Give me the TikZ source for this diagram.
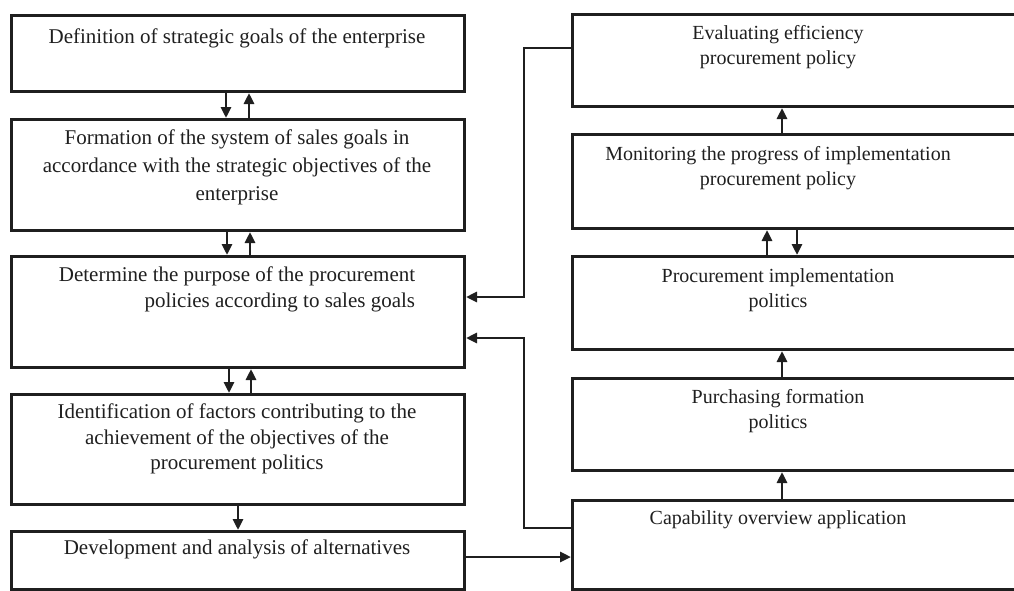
\documentclass[tikz,border=0pt]{standalone}
\usepackage{fontspec}
\setmainfont{Liberation Serif}
\usetikzlibrary{arrows.meta}
\begin{document}
\begin{tikzpicture}[x=1pt,y=-1pt,
  box/.style={draw=black!88, line width=3pt, rectangle, inner sep=0pt},
  txt/.style={anchor=north, inner sep=0pt, align=center, text=black!88, font=\fontsize{20}{25}\selectfont},
  ltxt/.style={txt, font=\fontsize{21}{25.5}\selectfont},
  con/.style={draw=black!88, line width=2.9pt, -{Triangle[length=11pt,width=10pt]}}]
\useasboundingbox (0,0) rectangle (1014,590);
\clip (0,0) rectangle (1014,590);
% left boxes
\node[box, minimum width=453pt, minimum height=76pt, anchor=north west] (L1) at (10,14) {};
\node[box, minimum width=453pt, minimum height=111pt, anchor=north west] (L2) at (10,118) {};
\node[box, minimum width=453pt, minimum height=111pt, anchor=north west] (L3) at (10,255) {};
\node[box, minimum width=453pt, minimum height=110pt, anchor=north west] (L4) at (10,393) {};
\node[box, minimum width=453pt, minimum height=58pt, anchor=north west] (L5) at (10,530) {};
% right boxes
\node[box, minimum width=470pt, minimum height=92pt, anchor=north west] (R1) at (571,13) {};
\node[box, minimum width=470pt, minimum height=94pt, anchor=north west] (R2) at (571,133) {};
\node[box, minimum width=470pt, minimum height=93pt, anchor=north west] (R3) at (571,255) {};
\node[box, minimum width=470pt, minimum height=92pt, anchor=north west] (R4) at (571,377) {};
\node[box, minimum width=470pt, minimum height=89pt, anchor=north west] (R5) at (571,499) {};
% texts
\node[ltxt] (t1) at (237,29) {Definition of strategic goals of the enterprise};
\node[ltxt, font=\fontsize{21}{28}\selectfont] (t2) at (237,130) {Formation of the system of sales goals in\\accordance with the strategic objectives of the\\enterprise};
\node[ltxt, align=right] (t3) at (237,267) {Determine the purpose of the procurement\\policies according to sales goals};
\node[ltxt] (t4) at (237,404) {Identification of factors contributing to the\\achievement of the objectives of the\\procurement politics};
\node[ltxt] (t5) at (237,540) {Development and analysis of alternatives};
\node[txt] (t6) at (778,25) {Evaluating efficiency\\procurement policy};
\node[txt] (t7) at (778,146) {Monitoring the progress of implementation\\procurement policy};
\node[txt] (t8) at (778,268) {Procurement implementation\\politics};
\node[txt] (t9) at (778,389) {Purchasing formation\\politics};
\node[txt] (t10) at (778,510) {Capability overview application};
% arrows left column
\draw[con] ([xshift=-12pt]L1.south) -- ([xshift=-12pt]L2.north);
\draw[con] ([xshift=11pt]L2.north) -- ([xshift=11pt]L1.south);
\draw[con] ([xshift=-11pt]L2.south) -- ([xshift=-11pt]L3.north);
\draw[con] ([xshift=12pt]L3.north) -- ([xshift=12pt]L2.south);
\draw[con] ([xshift=-9pt]L3.south) -- ([xshift=-9pt]L4.north);
\draw[con] ([xshift=13pt]L4.north) -- ([xshift=13pt]L3.south);
\draw[con] (L4.south) -- (L5.north);
% arrows right column
\coordinate (rx) at (782,0);
\draw[con] (R2.north -| rx) -- (R1.south -| rx);
\draw[con] (R3.north -| 767,0) -- (R2.south -| 767,0);
\draw[con] (R2.south -| 797,0) -- (R3.north -| 797,0);
\draw[con] (R4.north -| rx) -- (R3.south -| rx);
\draw[con] (R5.north -| rx) -- (R4.south -| rx);
% long connectors
\coordinate (v) at (524,0);
\draw[con] (R1.west |- 0,48) -| (v |- 0,297) -- (L3.east |- 0,297);
\draw[con] (R5.west |- 0,528) -| (v |- 0,338) -- (L3.east |- 0,338);
\draw[con] (L5.east |- 0,557) -- (R5.west |- 0,557);
\end{tikzpicture}
\end{document}
